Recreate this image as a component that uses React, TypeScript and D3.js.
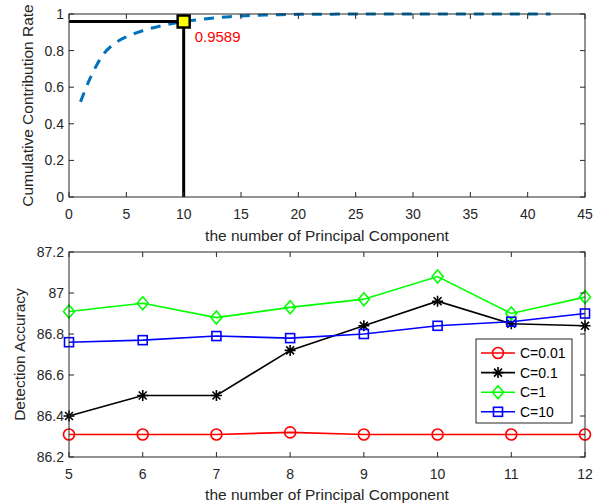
import React from "react";
import * as d3 from "d3";

// top panel: cumulative contribution rate per number of components
const pcCount = [1, 2, 3, 4, 5, 6, 7, 8, 9, 10, 11, 12, 13, 14, 15, 16, 17, 18, 19, 20, 21, 22, 23, 24, 25, 26, 27, 28, 29, 30, 31, 32, 33, 34, 35, 36, 37, 38, 39, 40, 41, 42];
const cumRate = [0.52, 0.67, 0.78, 0.84, 0.875, 0.9, 0.92, 0.935, 0.948, 0.9589, 0.967, 0.974, 0.98, 0.985, 0.989, 0.992, 0.994, 0.996, 0.997, 0.998, 0.999, 0.999, 0.999, 1, 1, 1, 1, 1, 1, 1, 1, 1, 1, 1, 1, 1, 1, 1, 1, 1, 1, 1];
const topXTicks = [0, 5, 10, 15, 20, 25, 30, 35, 40, 45];
const topYTicks = [0, 0.2, 0.4, 0.6, 0.8, 1];
const chosenPc = 10;
const chosenRate = 0.9589;

// bottom panel: detection accuracy
const pcSel = [5, 6, 7, 8, 9, 10, 11, 12];
const accC001 = [86.31, 86.31, 86.31, 86.32, 86.31, 86.31, 86.31, 86.31];
const accC01 = [86.4, 86.5, 86.5, 86.72, 86.84, 86.96, 86.85, 86.84];
const accC1 = [86.91, 86.95, 86.88, 86.93, 86.97, 87.08, 86.9, 86.98];
const accC10 = [86.76, 86.77, 86.79, 86.78, 86.8, 86.84, 86.86, 86.9];
const botYTicks = [86.2, 86.4, 86.6, 86.8, 87, 87.2];
const seriesNames = ["C=0.01", "C=0.1", "C=1", "C=10"];

const font = "'Liberation Sans', Arial, sans-serif";
const axisCol = "#262626";

const Marker = ({ kind, x, y, color }: { kind: string; x: number; y: number; color: string }) => {
  if (kind === "circle") return <circle cx={x} cy={y} r={5.5} fill="none" stroke={color} strokeWidth={1.6} />;
  if (kind === "diamond")
    return <path d={`M${x},${y - 6.5}L${x + 5.5},${y}L${x},${y + 6.5}L${x - 5.5},${y}Z`} fill="none" stroke={color} strokeWidth={1.6} />;
  if (kind === "square") return <rect x={x - 4.5} y={y - 4.5} width={9} height={9} fill="none" stroke={color} strokeWidth={1.6} />;
  // asterisk
  const r = 5.5, d = r * 0.72;
  return (
    <path
      d={`M${x - r},${y}L${x + r},${y}M${x},${y - r}L${x},${y + r}M${x - d},${y - d}L${x + d},${y + d}M${x - d},${y + d}L${x + d},${y - d}`}
      stroke={color}
      strokeWidth={1.6}
    />
  );
};

const App = () => {
  const width = 604, height = 504;
  const left = 69, right = 585;

  // top scales
  const x1 = d3.scaleLinear().domain([0, 45]).range([left, right]);
  const y1 = d3.scaleLinear().domain([0, 1]).range([197, 14]);
  const line1 = d3.line<number>().x((_, i) => x1(pcCount[i])).y((d) => y1(d)).curve(d3.curveMonotoneX);

  // bottom scales
  const x2 = d3.scaleLinear().domain([5, 12]).range([left, right]);
  const y2 = d3.scaleLinear().domain([86.2, 87.2]).range([457, 252]);
  const line2 = d3.line<number>().x((_, i) => x2(pcSel[i])).y((d) => y2(d));

  const series = [
    { name: seriesNames[0], vals: accC001, color: "#ff0000", kind: "circle" },
    { name: seriesNames[1], vals: accC01, color: "#000000", kind: "star" },
    { name: seriesNames[2], vals: accC1, color: "#00ff00", kind: "diamond" },
    { name: seriesNames[3], vals: accC10, color: "#0000ff", kind: "square" },
  ];

  const tickLen = 5;

  const frame = (xs: any, ys: any, xTicks: number[], yTicks: number[], fmtY: (v: number) => string) => {
    const [x0, xe] = xs.range();
    const [yb, yt] = ys.range();
    return (
      <g>
        {xTicks.map((t) => (
          <g key={"xt" + t}>
            <line x1={xs(t)} x2={xs(t)} y1={yb} y2={yb - tickLen} stroke={axisCol} />
            <line x1={xs(t)} x2={xs(t)} y1={yt} y2={yt + tickLen} stroke={axisCol} />
            <text x={xs(t)} y={yb + 22} textAnchor="middle" fontSize={14} fill={axisCol}>{t}</text>
          </g>
        ))}
        {yTicks.map((t) => (
          <g key={"yt" + t}>
            <line x1={x0} x2={x0 + tickLen} y1={ys(t)} y2={ys(t)} stroke={axisCol} />
            <line x1={xe} x2={xe - tickLen} y1={ys(t)} y2={ys(t)} stroke={axisCol} />
            <text x={x0 - 5} y={ys(t) + 5} textAnchor="end" fontSize={14} fill={axisCol}>{fmtY(t)}</text>
          </g>
        ))}
        <rect x={x0} y={yt} width={xe - x0} height={yb - yt} fill="none" stroke={axisCol} strokeWidth={1} />
      </g>
    );
  };

  return (
    <svg width={width} height={height} style={{ position: "absolute", left: 0, top: 0, background: "#fff" }} fontFamily={font}>
      <rect width={width} height={height} fill="#fff" />
      {/* top panel */}
      <path d={line1(cumRate) || ""} fill="none" stroke="#0072BD" strokeWidth={3} strokeDasharray="10 8" />
      <line x1={x1(0)} x2={x1(chosenPc)} y1={y1(chosenRate)} y2={y1(chosenRate)} stroke="#000" strokeWidth={3} />
      <line x1={x1(chosenPc)} x2={x1(chosenPc)} y1={y1(chosenRate)} y2={y1(0)} stroke="#000" strokeWidth={3} />
      {frame(x1, y1, topXTicks, topYTicks, (v) => String(v))}
      <rect x={x1(chosenPc) - 6} y={y1(chosenRate) - 6} width={12} height={12} fill="#ffff00" stroke="#000" strokeWidth={2.5} />
      <text x={x1(chosenPc) + 11} y={y1(chosenRate) + 20.5} fontSize={15} fill="#ff0000">{chosenRate}</text>
      <text x={(left + right) / 2} y={241} textAnchor="middle" fontSize={15.5} fill={axisCol}>the number of Principal Component</text>
      <text transform={`translate(33,${(14 + 197) / 2}) rotate(-90)`} textAnchor="middle" fontSize={15.5} fill={axisCol}>Cumulative Contribution Rate</text>

      {/* bottom panel */}
      {series.map((s) => (
        <g key={s.name}>
          <path d={line2(s.vals) || ""} fill="none" stroke={s.color} strokeWidth={1.6} />
          {s.vals.map((v, i) => (
            <Marker key={i} kind={s.kind} x={x2(pcSel[i])} y={y2(v)} color={s.color} />
          ))}
        </g>
      ))}
      {frame(x2, y2, pcSel, botYTicks, (v) => d3.format("~")(+v.toFixed(1)))}
      <text x={(left + right) / 2} y={500} textAnchor="middle" fontSize={15.5} fill={axisCol}>the number of Principal Component</text>
      <text transform={`translate(25,${(252 + 457) / 2}) rotate(-90)`} textAnchor="middle" fontSize={15.5} fill={axisCol}>Detection Accuracy</text>

      {/* legend */}
      <g>
        <rect x={476} y={339} width={96} height={84} fill="#fff" stroke={axisCol} strokeWidth={1} />
        {series.map((s, i) => {
          const ly = 353 + i * 19.6;
          return (
            <g key={"lg" + s.name}>
              <line x1={481} x2={515} y1={ly} y2={ly} stroke={s.color} strokeWidth={1.6} />
              <Marker kind={s.kind} x={498} y={ly} color={s.color} />
              <text x={520} y={ly + 5} fontSize={14} fill="#000">{s.name}</text>
            </g>
          );
        })}
      </g>
    </svg>
  );
};

export default App;
